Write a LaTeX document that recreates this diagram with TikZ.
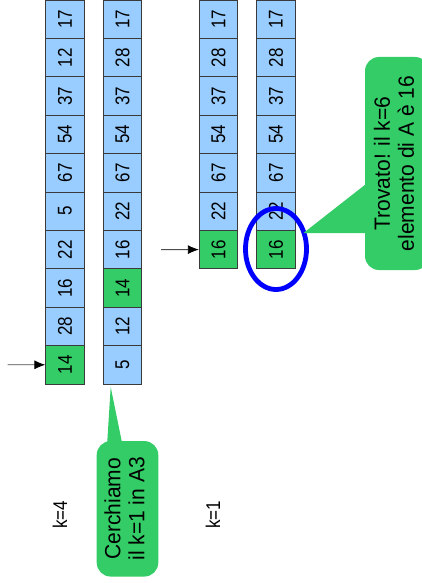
\documentclass[tikz,border=0pt]{standalone}
\usepackage{fontspec}
\usepackage{graphicx}
\setmainfont{Liberation Sans}
\usetikzlibrary{arrows.meta,shapes.geometric}
\definecolor{cellblue}{HTML}{99CCFF}
\definecolor{cellgreen}{HTML}{33CC66}
\definecolor{edgegray}{HTML}{3A3A3A}
\newcommand{\tallt}[1]{\scalebox{1}[1.17]{#1}}
\newcommand{\tallc}[1]{\scalebox{1}[1.05]{#1}}
\begin{document}
\begin{tikzpicture}[x=1pt,y=-1pt,
  cell/.style={draw=edgegray, line width=0.8pt, fill=cellblue, minimum width=38.4pt,
    minimum height=38.5pt, inner sep=0pt, rotate=90, font=\fontsize{17}{17}\selectfont},
  arr/.style={draw=black!70, line width=0.8pt, -{Latex[length=11pt,width=9pt,color=black]}},
  callout/.style={fill=cellgreen, rounded corners=14pt, rotate=90,
    inner sep=0pt, font=\fontsize{21}{23}\selectfont},
  klabel/.style={rotate=90, inner sep=0pt, font=\fontsize{17}{17}\selectfont}]
\useasboundingbox (0,0) rectangle (422,583);
\clip (0,0) rectangle (422,583);
% column 1
\foreach \v/\c [count=\i from 0] in {17/blue,12/blue,37/blue,54/blue,67/blue,5/blue,22/blue,16/blue,28/blue,14/green}
  \node[cell, fill=cell\c] (a\i) at (65,19.2+38.4*\i) {\tallt{\v}};
% column 2
\foreach \v/\c [count=\i from 0] in {17/blue,28/blue,37/blue,54/blue,67/blue,22/blue,16/blue,14/green,12/blue,5/blue}
  \node[cell, fill=cell\c] (b\i) at (122.5,19.2+38.4*\i) {\tallt{\v}};
% column 3
\foreach \v/\c [count=\i from 0] in {17/blue,28/blue,37/blue,54/blue,67/blue,22/blue,16/green}
  \node[cell, fill=cell\c] (c\i) at (218.5,19.2+38.4*\i) {\tallt{\v}};
% column 4
\foreach \v/\c [count=\i from 0] in {17/blue,28/blue,37/blue,54/blue,67/blue,22/blue,16/green}
  \node[cell, fill=cell\c] (d\i) at (275.9,19.2+38.4*\i) {\tallt{\v}};
% arrows
\coordinate (s1) at (7.5,364.8);
\coordinate (s2) at (161,249.6);
\draw[arr] (s1) -- (a9);
\draw[arr] (s2) -- (c6);
% ellipse
\node[ellipse, draw=blue, line width=4.8pt, minimum width=61pt, minimum height=81pt, inner sep=0pt] (ring) at (276,249) {};
% callout 1
\node[callout, minimum width=135.5pt, minimum height=61.6pt] (call1) at (127.5,508.8)
  {\tallc{\begin{tabular}{@{}c@{}}Cerchiamo\\il k=1 in A3\end{tabular}}};
\coordinate (tip1) at (110.7,387);
\fill[cellgreen] (107,446) -- (tip1) -- (122.7,446) -- cycle;
% callout 2
\node[callout, minimum width=213pt, minimum height=64pt] (call2) at (397,163.5)
  {\tallc{\begin{tabular}{@{}c@{}}Trovato! il k=6\\elemento di A è 16\end{tabular}}};
\coordinate (tip2) at (303.5,233);
\fill[cellgreen] (369,181.7) -- (tip2) -- (369,233) -- cycle;
% labels
\node[klabel] (k4) at (60,515) {\tallt{k=4}};
\node[klabel] (k1) at (213,515) {\tallt{k=1}};
\end{tikzpicture}
\end{document}
